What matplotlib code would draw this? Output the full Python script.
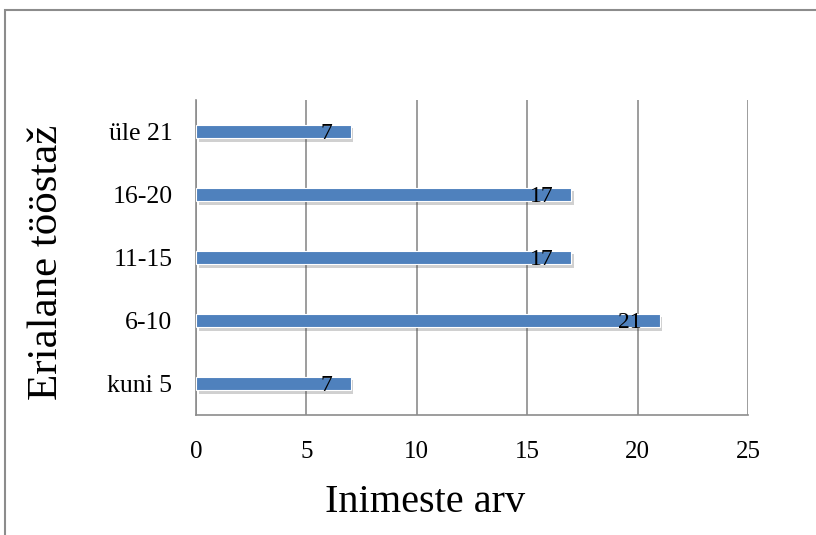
import matplotlib.pyplot as plt
import matplotlib.patheffects as pe
from matplotlib.patches import Rectangle

# data
categories = ['kuni 5', '6-10', '11-15', '16-20', 'üle 21']
counts = [7, 21, 17, 17, 7]
xticks = [0, 5, 10, 15, 20, 25]

plt.rcParams['font.family'] = ['Liberation Serif', 'DejaVu Serif']

fig = plt.figure(figsize=(8.16, 5.35), dpi=100)
fig.patch.set_facecolor('white')

# outer chart frame (only top and left visible)
fig.patches.append(Rectangle((4.5 / 816, -0.1), 1.2, 1 - 9.5 / 535 + 0.1,
                             transform=fig.transFigure, fill=False,
                             edgecolor='#8c8c8c', linewidth=1.5))

ax = fig.add_axes([196 / 816, 1 - 415 / 535, (748 - 196) / 816, (415 - 100) / 535])

bars = ax.barh(range(len(categories)), counts, height=0.22, color='#4F81BD',
               edgecolor='white', linewidth=0.8, zorder=3)
for b in bars:
    b.set_path_effects([pe.SimplePatchShadow(offset=(2, -2.5), alpha=0.25, shadow_rgbFace='#444444'),
                        pe.Normal()])

# value labels, inside the end of each bar
for i, v in enumerate(counts):
    ax.annotate(str(v), (v, i), xytext=(-13, -1.5), textcoords='offset points',
                ha='right', va='center', fontsize=17, color='black', zorder=4)

ax.set_xlim(0, 25)
ax.set_ylim(-0.5, len(categories) - 0.5)
ax.set_xticks(xticks)
ax.set_xticklabels([str(t) for t in xticks], fontsize=18)
ax.set_yticks(range(len(categories)))
ax.set_yticklabels(categories, fontsize=18.5)
ax.tick_params(axis='both', length=0)
ax.tick_params(axis='x', pad=19)
ax.tick_params(axis='y', pad=17)

ax.grid(axis='x', color='#8c8c8c', linewidth=1.2, zorder=0)
for s in ['top', 'right']:
    ax.spines[s].set_visible(False)
for s in ['left', 'bottom']:
    ax.spines[s].set_color('#8c8c8c')
    ax.spines[s].set_linewidth(1.2)

fig.text(425 / 816, 1 - 512 / 535, 'Inimeste arv', ha='center', va='baseline', fontsize=29)
fig.text(47 / 816, 1 - 262 / 535, 'Erialane tööstaž', ha='center', va='center',
         rotation=90, fontsize=31)

fig.savefig('out.png', dpi=100)
